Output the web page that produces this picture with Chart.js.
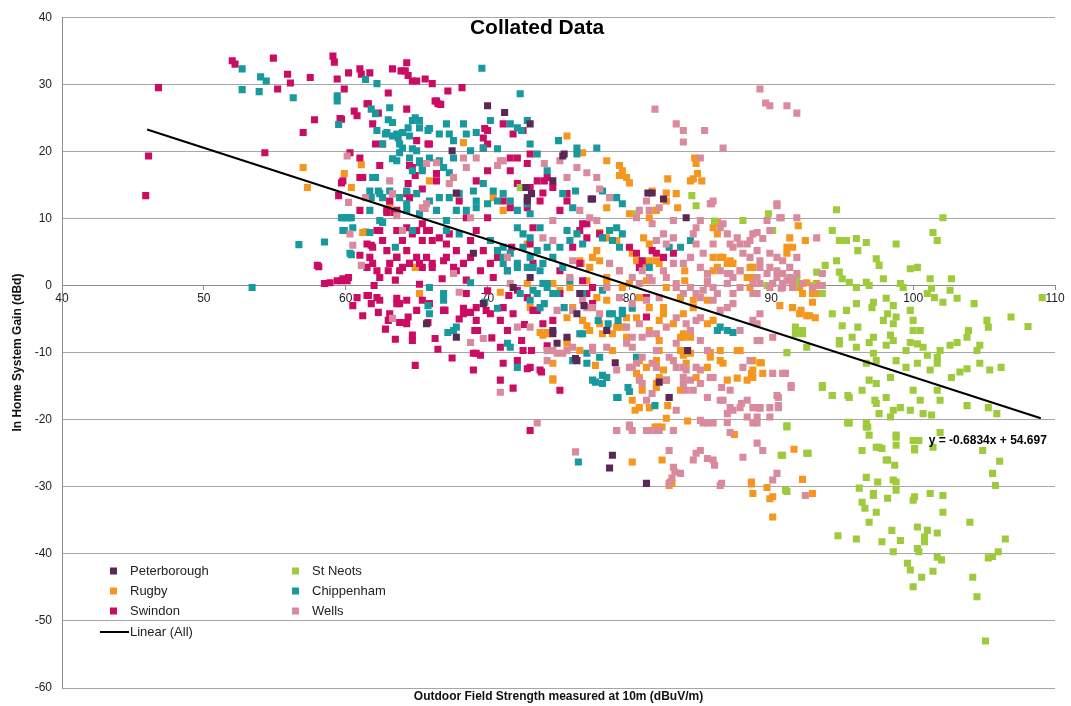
<!DOCTYPE html>
<html>
<head>
<meta charset="utf-8">
<title>Collated Data</title>
<script src="https://cdn.jsdelivr.net/npm/chart.js@4.4.1/dist/chart.umd.min.js"></script>
<style>
  html, body { margin: 0; padding: 0; background: #ffffff; }
  #wrap { width: 1071px; height: 706px; }
</style>
</head>
<body>
<div id="wrap"><canvas id="gainChart" width="1071" height="706"></canvas></div>
<script>
// Axis settings
const xTicks = [40, 50, 60, 70, 80, 90, 100, 110];
const yTicks = [-60, -50, -40, -30, -20, -10, 0, 10, 20, 30, 40];

// Trendline (Linear (All)): y = -0.6834x + 54.697
const trendSlope = -0.6834;
const trendIntercept = 54.697;
const trendRange = [46, 109];

// Series values, [field strength, gain]
const peterborough = [
  [70.0,26.8],[71.2,25.8],[73.0,24.1],[67.5,20.1],[75.3,19.3],[77.4,12.9],[81.3,13.8],[82.4,12.9],[84.0,10.1],
  [72.8,12.6],[73.1,13.7],[72.7,14.6],[72.8,13.1],[67.8,13.8],[71.8,-0.3],[73.0,1.2],[76.3,-11.2],[79.0,-11.5],
  [78.4,-6.7],[75.6,-7.7],[67.8,-7.7],[65.7,-5.7],[76.3,-4.2],[74.6,-6.7],[82.1,-14.4],[82.8,-16.7],[69.7,-2.7],
  [69.0,4.8],[76.5,-1.2],[78.8,-25.3],[78.6,-27.2],[81.2,-29.5],[76.2,-10.9],[74.9,-8.6],[74.6,-7.2],[76.8,-3.0],
  [84.1,-9.7],[75.4,19.6],[74.6,15.6],[81.6,13.8],[77.3,12.9]
];

const rugby = [
  [57.0,17.6],[57.3,14.6],[59.9,16.7],[60.4,14.6],[61.1,18.0],[61.4,8.0],[63.1,12.2],[64.5,3.3],[64.9,2.7],[65.2,-1.2],
  [65.9,15.6],[61.2,7.9],[67.8,13.7],[68.3,21.3],[70.4,13.1],[71.1,11.2],[70.9,-1.0],[72.8,6.2],[72.8,0.3],[73.0,-3.3],
  [75.6,22.3],[76.7,19.8],[78.4,18.6],[79.3,17.9],[79.5,17.1],[79.8,16.1],[80.0,15.3],[79.3,16.4],[82.7,15.9],[84.6,19.0],
  [84.7,18.2],[84.8,16.7],[84.5,15.9],[85.1,15.6],[84.3,15.6],[81.6,14.1],[82.6,13.8],[83.3,13.7],[82.6,12.6],[83.4,11.6],
  [78.4,11.6],[80.0,10.7],[81.4,10.1],[81.9,11.2],[85.9,8.6],[86.2,7.7],[91.3,7.1],[91.1,5.7],[79.1,6.7],[77.7,5.2],
  [77.9,3.7],[81.9,3.7],[81.2,3.3],[80.5,3.7],[85.9,4.2],[86.4,4.2],[86.9,3.3],[87.3,3.3],[86.2,2.7],[87.8,2.2],
  [88.5,1.2],[88.5,2.7],[91.1,4.8],[83.9,2.2],[83.9,0.7],[76.6,3.3],[77.0,0.7],[78.4,-0.3],[74.6,0.3],[86.2,9.4],
  [86.6,4.2],[87.1,3.7],[85.9,2.2],[88.5,-0.3],[78.4,7.1],[77.9,7.9],[81.0,7.1],[81.4,6.2],[80.2,4.8],[80.7,3.7],
  [81.4,3.7],[82.1,3.3],[77.4,4.2],[77.2,2.7],[76.5,3.7],[78.4,1.2],[79.3,2.2],[80.0,0.3],[81.2,0.7],[82.6,-0.3],
  [83.6,-1.8],[84.5,-2.2],[85.5,-2.2],[78.4,-2.2],[77.7,-1.8],[75.8,-0.3],[75.1,-0.7],
  [74.2,-7.2],[74.6,-11.6],[74.6,-14.1],[75.6,-8.6],[77.2,-6.7],[77.9,-5.7],[78.8,-9.7],[79.8,-7.7],[80.5,-13.1],
  [80.7,-11.2],[81.2,-12.2],[81.9,-15.2],[82.1,-13.7],[82.7,-17.9],[82.6,-19.8],[81.8,-21.1],[82.3,-21.1],[80.4,-18.6],
  [82.3,-26.0],[83.0,-29.5],[83.6,-7.7],[83.8,-10.4],[83.6,-15.6],[84.3,-7.7],[84.0,-11.6],[84.7,-13.7],[85.5,-12.2],
  [85.7,-10.0],[86.4,-11.2],[86.9,-14.1],[85.9,-5.2],[87.8,-9.7],[88.3,-14.1],[88.7,-13.7],[88.6,-29.3],[88.7,-31.0],
  [81.4,-3.3],[82.4,-4.2],[83.1,-5.7],[83.8,-7.2],[79.8,-4.8],[79.1,-6.2],[78.1,-7.2],[76.7,-5.2],[76.5,-9.7],[75.6,-4.8],
  [90.1,-31.5],[89.7,-30.1],[82.8,-29.8],[82.0,-21.1],[87.6,-13.8],[88.6,-13.1],[89.2,-11.5],[89.4,-13.1],[80.7,-18.2],
  [92.9,-1.2],[92.1,-3.7],[92.5,-4.5],[93.2,0.3],[91.5,0.3],[92.2,0.3],[88.3,1.2],[88.7,2.7],
  [91.9,8.9],[91.5,5.7],[92.4,6.7],[92.5,0.4],[92.0,-0.3],[92.2,-1.2],[93.4,-1.2],[92.9,-2.5],[91.5,-3.3],[92.0,-4.2],
  [92.7,-4.5],[93.1,-4.8],[88.6,1.2],[90.6,-3.0],[89.3,-11.5],[88.7,-12.6],
  [80.2,-26.3],[82.9,-29.3],[88.6,-29.6],[89.9,-31.8],[90.1,-34.5],[92.2,-28.9],[91.6,-24.4],[87.4,-22.2],[84.1,-20.2],
  [92.9,-31.0],[73.7,-7.0],[73.9,-7.4],[74.2,-7.0],[74.6,-13.9],[75.6,-8.2],[77.6,-11.9],[77.0,-6.0],[81.9,-14.6],[76.0,-3.3],
  [78.8,-7.2],[79.5,-6.2],[80.5,-4.8],[81.4,-6.7],[82.1,-8.2],[82.1,-9.7],[81.9,-11.2],[82.4,-12.6],[82.6,-14.1],[83.6,-9.7],
  [84.3,-10.1],[85.7,-10.7],[86.4,-9.7],[86.6,-11.6],[87.6,-9.7],[88.7,-11.2],[80.7,-13.7],[80.9,-15.6],[80.2,-17.1],[81.4,-18.2],
  [78.4,0.3],[79.5,-0.3],[80.7,-1.8],[82.4,-3.3],[83.8,-4.2],[84.5,-3.3],[85.5,-5.7],[82.1,-5.2],[83.8,-7.7]
];

const swindon = [
  [45.9,13.4],[46.1,19.3],[46.8,29.5],[52.0,33.5],[52.2,33.0],[54.9,33.9],[55.9,31.5],[56.1,30.2],[55.2,29.3],[57.5,31.0],
  [57.8,24.7],[57.0,22.8],[54.3,19.8],[59.1,34.2],[59.2,33.3],[59.4,30.8],[59.9,29.3],[60.2,31.7],[61.0,32.3],[61.1,31.5],
  [61.7,31.7],[63.3,32.3],[63.9,32.0],[64.3,33.2],[64.4,31.3],[65.0,30.5],[65.6,30.8],[66.1,30.1],[63.0,28.7],[64.3,26.3],
  [60.6,26.0],[60.8,25.3],[61.6,27.1],[62.3,25.7],[61.9,24.1],[62.1,21.1],[65.0,21.6],[65.8,21.1],[66.3,27.5],[59.7,24.8],
  [60.3,19.8],[61.0,19.0],[62.4,17.9],[64.7,17.6],[64.9,16.4],[61.0,16.1],[64.4,15.2],[64.3,13.7],[65.4,14.4],[59.7,15.3],
  [59.5,13.4],[62.9,10.9],[63.4,10.9],[62.4,8.2],[61.8,6.0],[62.9,5.2],[63.6,8.2],[64.0,6.7],[65.0,8.2],[65.7,8.2],
  [66.1,6.7],[58.1,2.8],[58.5,0.3],[58.9,0.4],[59.7,0.7],[60.2,1.2],[60.8,-1.8],[61.5,-1.5],[62.2,-1.8],[61.5,2.7],
  [61.9,3.3],[62.4,1.2],[63.0,2.2],[63.6,4.2],[64.0,2.7],[64.5,3.3],[65.0,4.2],[65.4,2.7],[66.1,3.3],
  [64.2,32.0],[64.7,30.5],[67.2,29.0],[68.2,29.5],[66.4,27.5],[66.7,27.0],
  [59.6,24.9],[61.5,27.1],[62.6,21.1],[65.9,21.1],[66.5,27.1],[59.8,15.6],[64.5,17.9],[66.4,16.7],[66.4,15.6],[64.5,13.1],
  [63.6,11.2],[62.9,11.2],[63.1,12.6],[61.2,16.1],[61.0,11.2],[62.2,8.2],[62.6,6.7],[64.3,8.6],[64.7,7.7],[65.4,9.2],
  [65.9,8.2],[66.6,7.1],[67.3,7.7],[65.4,6.7],[64.3,5.2],[63.6,4.2],[61.9,5.7],[61.5,6.2],[61.7,4.2],[62.2,2.2],
  [63.1,3.3],[63.8,2.2],[65.2,3.3],[65.7,4.2],[66.1,2.7],[66.9,3.7],[67.6,2.7],[68.3,3.3],[68.8,4.2],[69.5,2.2],
  [70.2,3.3],[70.7,4.2],[69.7,5.2],[67.8,5.2],[67.1,6.2],[68.8,6.7],[69.2,8.2],[70.0,10.1],[68.5,10.1],[68.0,12.6],
  [69.2,15.6],[70.0,17.1],[71.6,17.1],[72.1,15.2],[73.0,14.6],[73.5,15.6],[73.7,12.6],[72.8,11.6],[71.6,11.6],[71.1,12.6],
  [71.6,19.0],[72.1,19.0],[73.0,19.6],[72.8,18.2],[70.0,23.1],[70.0,21.1],[71.1,24.1],[71.8,22.6],[72.5,23.1],[73.2,8.6],
  [71.7,5.7],[73.0,6.2],[59.4,0.7],[60.1,0.7],[62.4,-2.2],[63.6,-2.7],[65.0,-3.7],[65.9,-2.7],[66.9,-3.7],[68.3,-4.2],
  [69.2,-3.3],[70.2,-4.2],[71.1,-3.3],[73.5,-3.7],
  [69.8,23.4],[69.7,22.0],[69.7,20.5],[74.2,16.1],[75.6,13.7],[80.0,5.7],[80.5,4.8],[81.6,5.2],[82.4,4.2],[80.7,2.7],
  [77.0,9.2],[76.5,8.2],[77.9,7.7],[83.1,4.8],[75.1,11.2],[75.6,12.6],[74.0,15.6],[73.9,13.8],[74.6,14.6],[76.7,9.2],
  [77.0,7.1],[76.0,5.7],[81.9,4.8],[76.7,0.7],[77.4,-0.3],[75.1,-1.2],[81.2,-1.8],
  [58.0,3.0],[59.8,1.0],[61.6,-1.5],[61.8,-2.7],[62.3,-4.0],[63.1,-4.2],[63.6,-1.9],[63.8,-2.7],[64.3,-2.2],[64.4,-4.7],
  [64.2,-5.5],[64.7,-7.4],[64.7,-8.2],[64.9,-11.9],[65.4,-2.2],[66.3,-7.9],[66.9,-3.7],[68.5,-1.2],[68.3,-3.4],[68.8,-4.0],
  [69.2,-5.2],[69.9,-3.7],[69.3,-6.7],[69.0,-10.1],[69.5,-10.4],[69.0,-12.6],[70.9,-5.2],[71.4,-6.7],[70.9,-9.2],[71.1,-11.6],
  [71.8,-15.3],[72.1,-11.2],[72.4,-8.2],[73.0,-12.2],[73.7,-12.6],[73.9,-5.7],[74.6,-5.2],[75.1,-15.6],[73.0,-21.6],[73.2,-3.7],
  [72.8,-1.8],[72.1,-0.7],[67.1,4.2],[67.8,2.2],[70.4,1.2],[71.4,2.2],[73.2,3.3],[75.1,2.2],[76.5,3.3],[77.0,-1.2],
  [77.4,-2.7],[81.2,-4.7],[80.9,3.7],
  [63.0,-5.2],[63.8,-5.5],[64.3,-5.7],[67.0,-3.7],[69.2,-10.1],[70.9,-14.1],[72.5,-9.7],[73.1,-9.7],[72.8,-12.4],[73.8,-12.9],
  [69.1,-6.7],
  [60.5,-3.0],[61.2,-4.5],[62.8,-6.5],[63.5,-8.0],[65.8,-5.5],[66.5,-9.5],[67.5,-10.8],[68.0,-5.0],[70.3,-7.8],[71.8,-4.2],
  [72.6,-5.8],[74.2,-9.0],[61.0,4.5],[62.0,0.0],[63.5,0.8],[65.2,0.2],[66.8,1.0],[68.5,0.8],[70.0,-0.8],[71.5,-1.5]
];

const stNeots = [
  [89.8,10.7],[90.1,8.2],[94.6,11.3],[94.3,8.2],[94.8,6.7],[95.3,6.7],[96.0,7.0],[96.7,6.4],[96.1,5.2],[98.8,6.2],
  [102.1,10.1],[101.4,7.9],[101.7,6.7],[94.6,3.7],[93.8,3.0],[93.2,2.0],[94.8,2.0],[95.0,1.0],[95.5,0.5],[97.4,4.0],
  [97.6,3.0],[97.9,1.0],[99.8,2.5],[100.3,2.7],[101.2,1.0],[102.7,1.0],[99.1,0.3],[99.3,-0.3],[96.7,0.5],[96.9,0.0],
  [96.0,-0.3],[91.8,1.0],[91.9,0.3],[89.7,0.0],[92.9,0.0],[93.6,-1.2],[102.6,-0.7],[103.1,-1.9],[101.3,-0.4],[101.0,-1.2],
  [101.5,-1.8],[102.1,-2.5],[104.3,-2.7],[109.1,-1.8],[106.9,-4.7],[108.1,-6.1],[105.2,-5.2],[105.3,-6.2],[94.3,-4.2],[95.3,-3.7],
  [96.0,-2.7],[97.1,-3.3],[97.2,-2.5],[98.1,-1.9],[98.6,-3.0],[98.2,-4.2],[98.8,-4.7],[99.8,-3.7],[100.0,-5.2],[97.9,-5.2],
  [98.6,-5.7],[95.0,-6.0],[96.1,-6.2],[91.7,-6.2],[92.2,-7.2],[94.8,-8.2],[94.8,-8.7],[95.7,-7.7],[96.0,-9.2],[96.9,-8.5],
  [97.2,-7.7],[98.4,-7.4],[98.6,-8.2],[98.1,-8.9],[100.0,-6.7],[100.5,-6.7],[99.8,-8.5],[99.5,-9.7],[100.3,-8.7],[100.7,-9.2],
  [101.0,-10.4],[101.7,-10.7],[101.9,-9.7],[102.6,-8.9],[103.1,-8.5],[103.8,-7.7],[103.9,-6.7],[104.7,-8.9],[104.5,-9.7],[104.7,-11.6],
  [105.4,-12.6],[106.2,-12.2],[102.7,-13.7],[103.3,-12.9],[103.8,-12.4],[101.7,-11.6],[101.2,-12.6],[100.3,-11.6],[99.5,-12.2],[98.8,-11.2],
  [98.4,-13.7],[97.4,-11.2],[97.2,-10.1],[96.7,-11.6],[96.9,-14.1],[97.4,-14.6],[96.4,-15.6],[94.3,-16.4],[93.6,-15.2],[95.5,-16.7],
  [97.4,-17.6],[97.6,-19.1],[98.6,-18.6],[99.1,-18.2],[100.0,-15.6],[100.5,-17.1],[99.8,-18.6],[100.7,-19.1],[101.3,-19.3],[101.7,-15.6],
  [101.9,-17.1],[103.8,-17.9],[105.3,-18.2],[105.9,-19.1],[95.5,-20.5],[96.7,-21.1],[98.8,-22.6],[100.3,-23.1],[91.1,-21.1],[97.4,-24.1],
  [92.6,-25.0],[90.8,-25.3],[91.1,-30.7],[95.4,-20.5],[96.4,-24.6],[96.8,-21.1],[96.9,-22.3],[97.8,-24.3],[98.1,-26.0],[98.8,-23.8],
  [98.7,-26.8],[98.8,-22.3],[100.0,-23.1],[100.1,-24.3],[100.4,-23.1],[97.5,-29.3],[96.2,-30.2],[97.2,-31.3],[96.4,-32.3],[96.6,-33.2],
  [97.4,-33.8],[96.9,-35.3],[98.2,-31.7],[98.8,-29.3],[98.8,-30.5],[100.0,-32.0],[100.1,-31.5],[101.2,-31.0],[102.1,-31.3],[102.1,-33.8],
  [100.3,-36.0],[101.0,-36.5],[100.8,-37.5],[101.7,-36.9],[100.8,-38.2],[98.5,-36.5],[99.1,-38.0],[97.8,-38.2],[98.6,-39.7],[100.3,-39.2],
  [100.4,-39.7],[101.7,-40.5],[102.0,-40.9],[99.6,-41.4],[99.8,-42.4],[100.0,-44.9],[100.6,-43.5],[101.4,-42.6],[94.7,-37.3],[96.0,-37.8],
  [104.0,-35.3],[104.2,-43.5],[104.5,-46.4],[105.1,-53.0],[105.3,-40.6],[105.6,-40.4],[106.0,-39.7],[106.5,-37.8],[104.9,-24.6],[105.6,-28.0],
  [105.8,-29.8],[106.1,-26.2],[101.9,-21.9],[101.4,-24.1],[100.1,-24.5],
  [91.1,-20.9],[90.7,-25.3],[92.5,-25.0],[91.0,-30.5],[91.1,-10.0],[91.7,-7.2],[92.2,-6.7],[92.5,-9.2],[93.6,-14.9],[94.3,-16.4],
  [95.4,-16.4],[95.4,-20.4],[96.7,-20.5],[97.6,-24.1],[98.2,-26.0],[98.6,-29.0],[96.7,-28.6],[97.2,-31.0],[98.1,-16.7],[98.4,-19.6],
  [97.3,-17.1],[84.4,13.4],[84.7,11.9],[88.0,9.7],[80.5,10.7],[72.3,14.6],[86.0,9.6]
];

const chippenham = [
  [52.7,32.3],[52.7,29.2],[53.9,28.9],[54.0,31.1],[54.4,30.5],[56.3,28.0],[59.4,28.3],[59.4,27.5],[59.5,24.0],[61.4,30.7],
  [62.2,30.1],[61.8,26.3],[62.1,25.6],[63.1,26.5],[63.0,24.7],[62.2,23.1],[62.8,22.6],[63.3,22.3],[63.7,22.0],[64.0,22.8],
  [64.4,23.5],[64.7,24.6],[64.9,25.0],[65.2,23.5],[65.8,23.1],[62.6,21.1],[63.8,19.8],[64.0,20.5],[65.0,20.1],[63.3,18.9],
  [65.2,18.3],[65.4,17.6],[62.1,16.1],[62.3,14.1],[62.6,13.1],[63.3,13.7],[61.8,13.1],[64.3,12.2],[59.7,10.1],[60.1,10.1],
  [60.4,10.1],[59.9,8.2],[61.7,11.2],[62.6,9.4],[61.7,7.9],[60.4,4.6],[58.5,6.5],[56.7,6.1],[53.4,-0.3],[63.5,5.7],
  [64.7,8.2],[63.3,24.3],[62.9,22.8],[63.6,22.6],[64.5,22.3],[65.2,24.6],[65.9,23.4],[66.6,22.6],[67.1,24.1],[67.3,22.6],
  [67.6,21.6],[68.3,24.1],[68.5,22.6],[69.2,22.8],[70.2,24.6],[71.6,24.1],[72.1,23.5],[72.4,23.1],[73.0,21.1],[73.5,19.6],
  [63.8,21.1],[64.7,20.4],[63.6,18.6],[64.5,19.0],[65.2,18.6],[65.9,19.0],[66.6,18.6],[67.6,19.0],[68.8,20.1],[69.7,20.5],
  [70.7,20.4],[64.7,17.1],[65.4,17.1],[66.9,17.6],[67.3,16.8],[61.9,16.1],[61.7,14.1],[62.4,13.7],[63.1,14.1],[63.8,13.1],
  [64.3,14.1],[65.0,13.7],[65.9,12.6],[66.6,13.1],[67.3,13.1],[68.0,13.7],[69.0,14.1],[69.7,15.2],[70.4,14.1],[71.1,13.7],
  [71.6,12.6],[69.2,12.6],[70.0,12.2],[70.7,12.6],[72.1,11.2],[72.8,12.2],[73.0,10.7],[59.8,10.1],[60.3,10.1],[59.8,8.2],
  [62.4,9.7],[64.3,11.2],[65.2,10.7],[66.4,11.2],[67.1,9.7],[67.8,11.2],[68.5,11.2],[69.2,11.6],[67.1,8.2],[68.0,7.7],
  [70.2,6.7],[70.7,5.2],[71.1,5.7],[71.6,4.8],[72.5,5.7],[73.0,4.2],[73.5,5.2],[73.2,2.7],[72.1,2.7],[71.4,2.2],
  [73.9,3.3],[71.1,4.2],[72.1,8.6],[72.5,7.7],[73.0,7.1],[73.7,8.6],[60.3,4.8],[60.5,8.6],[68.8,0.4],[73.9,0.3],
  [66.9,-2.2],[65.9,-0.3],[73.0,-2.2],[73.7,-3.3],[73.5,-1.2],
  [66.9,-1.2],[65.8,-3.0],[65.9,-4.2],[67.6,-6.7],[67.2,-7.0],[67.8,-6.2],[69.8,-2.5],[70.7,-3.4],[71.4,-8.6],[71.6,-9.2],
  [72.1,-12.2],[71.1,3.3],[72.1,3.3],[72.8,2.7],[73.7,2.2],[74.2,0.3],[74.9,-1.2],[73.2,-0.7],[72.3,-1.2],[75.8,0.7],
  [76.7,-7.2],[77.9,-10.7],[77.6,-14.4],[78.1,-13.4],[79.1,-16.7],[79.9,-15.2],[81.8,-17.9],[79.5,-3.7],[78.6,-4.2],[80.5,-10.7],
  [77.0,-10.1],[76.0,-11.2],
  [74.0,-2.7],[75.4,-3.3],[76.5,-7.2],[77.0,-11.6],[77.4,-14.1],[78.1,-14.6],[79.2,-16.7],[80.0,-15.8],[76.4,-26.3],[77.8,-5.2],
  [78.5,-5.7],[79.2,-5.2],[79.5,-4.2],[78.8,-4.2],[80.2,-3.4],[86.4,-6.2],[86.9,-6.7],[87.3,-7.0],
  [75.0,21.6],[76.3,20.5],[76.3,19.6],[77.7,20.5],[74.2,17.1],[76.2,14.1],[78.1,14.1],[79.1,13.1],[79.5,12.2],[75.3,13.7],
  [76.0,11.6],[79.1,8.6],[78.6,8.2],[79.5,7.7],[78.8,6.7],[78.1,7.1],[79.3,5.7],[76.3,7.7],[75.8,6.7],[75.6,8.2],
  [76.7,6.2],[74.2,5.7],[75.1,5.7],[74.6,4.2],[75.3,2.7],[74.2,-0.3],[74.6,-1.2],[78.1,-0.7],[83.6,5.7],[82.8,5.7],
  [84.3,6.7],[76.7,-1.2],[81.4,2.7],[69.6,32.4],[72.3,28.6],[72.8,24.6],[86.2,-6.7],[78.4,-13.7]
];

const wells = [
  [89.2,29.3],[89.6,27.2],[89.9,26.8],[91.1,26.8],[91.8,25.7],[81.8,26.3],[83.3,24.1],[83.8,23.1],[83.8,21.4],[85.3,23.1],
  [86.6,20.5],[85.0,19.0],
  [74.0,18.2],[75.1,18.6],[76.3,17.6],[77.0,16.8],[77.7,16.1],[75.6,16.1],[77.9,14.4],[78.6,13.1],[81.2,12.6],[81.4,11.2],
  [80.7,11.2],[80.5,10.1],[82.1,11.6],[81.6,9.2],[83.1,9.7],[83.1,7.1],[82.4,7.7],[81.9,6.7],[82.6,6.2],[84.7,8.6],
  [85.0,9.7],[85.7,12.2],[85.9,12.6],[86.6,9.2],[86.9,7.7],[87.6,7.1],[87.8,6.2],[88.5,6.7],[88.7,7.7],[89.0,5.2],
  [88.0,4.8],[87.3,5.7],[85.9,6.2],[85.2,4.8],[84.3,4.2],[83.8,3.3],[83.1,3.3],[82.4,2.2],[81.4,1.2],[80.7,0.3],
  [81.2,-2.2],[82.1,-1.8],[83.3,-0.3],[84.3,-0.3],[85.2,-0.7],[85.9,-0.3],[86.9,0.3],[87.8,-0.3],[88.7,-1.2],[89.2,0.3],
  [85.5,1.8],[86.4,2.2],[86.9,1.8],[87.3,1.2],[87.8,2.2],[78.4,-0.3],[79.3,-1.8],[80.2,-2.7],[77.4,-3.3],[76.7,-2.2],
  [75.8,1.2],[76.0,3.7],[77.7,9.7],[77.2,10.1],[76.5,11.2],[74.6,9.7],[74.6,6.7],[73.9,7.1],
  [74.9,-3.7],[76.0,-3.7],[77.0,-3.3],[77.9,-4.2],[77.4,-9.7],[78.4,-9.2],[79.1,-12.6],[79.8,-8.6],[80.0,-12.2],[80.7,-14.1],
  [80.5,-11.6],[81.9,-12.2],[81.6,-16.1],[82.6,-14.1],[82.8,-10.7],[83.3,-8.6],[83.8,-12.2],[84.3,-14.1],[84.7,-12.2],[85.0,-14.6],
  [85.5,-16.7],[85.9,-13.7],[86.5,-15.2],[86.6,-17.1],[87.1,-15.6],[87.3,-18.6],[87.8,-18.2],[88.3,-17.1],[88.7,-18.2],[88.3,-19.6],
  [85.9,-20.5],[85.2,-20.5],[86.9,-20.4],[79.1,-21.6],[80.0,-20.8],[81.2,-21.6],[76.2,-24.8],[83.1,-27.1],[83.6,-28.0],[84.5,-26.0],
  [85.0,-24.6],[85.9,-26.0],[86.5,-29.5],[88.0,-25.6],[82.8,-29.5],[74.2,-9.7],[74.9,-10.1],[75.6,-9.7],[79.8,-6.2],[80.7,-5.7],
  [81.4,-7.2],[84.3,-6.7],[84.7,-5.2],[85.0,-8.2],[85.5,-9.7],[87.8,-6.7],[88.0,-12.2],[88.5,-11.2],[89.0,-19.6],[89.0,-18.2],
  [89.0,1.2],[89.7,1.8],[90.1,0.3],[90.4,1.2],[90.7,-0.4],[91.1,0.7],[91.8,1.8],[92.2,0.3],[92.9,-0.3],[93.4,0.0],
  [93.6,1.8],[87.3,-1.2],[87.3,-2.7],[86.4,-3.7],[85.9,-2.2],[85.0,-1.8],[89.2,-4.2],[88.7,-5.2],[90.1,-7.7],[89.0,-8.2],
  [90.1,-13.1],[91.0,-13.1],[91.4,-14.9],[90.4,-16.4],[90.5,-17.9],[89.9,-18.2],[89.2,-18.2],[89.0,-20.5],[87.9,-17.6],[87.1,-18.2],
  [87.1,-21.9],[89.4,-24.6],[90.4,-28.0],[90.1,-29.0],[86.0,-26.8],[84.7,-25.0],[85.5,-25.8],[82.8,-24.6],[83.2,-27.8],[83.0,-28.7],
  [86.4,-29.8],[92.4,-31.3],
  [60.1,19.3],[63.1,15.6],[65.7,18.2],[66.4,18.3],[68.3,19.0],[68.5,17.6],[67.6,16.1],[67.3,15.2],[69.2,19.0],[70.7,17.9],
  [70.9,18.6],[71.1,18.6],[63.6,10.4],[65.4,11.6],[65.7,12.2],[60.3,7.7],[60.5,6.0],[68.8,10.1],[71.6,0.3],[71.4,4.2],
  [60.2,12.4],[63.3,13.7],[61.4,13.1],[65.6,11.5],[64.0,8.2],
  [63.3,-4.9],[61.1,3.0],[67.6,1.8],[68.0,-1.0],[69.7,-7.9],[70.9,-15.9],[68.8,-8.5],[73.5,-20.5],[74.6,-9.7],[75.3,-10.1],
  [74.2,-11.2],[76.0,-9.2],[73.0,-6.2],[72.1,-6.2],[77.4,-9.2],[80.2,-7.7],[80.2,-12.2],[81.9,-9.7],[83.3,-12.2],[83.8,-13.7],
  [84.0,-15.6],[80.9,-14.6],[81.2,-17.1],[80.2,-21.6],[81.9,-21.6],[83.1,-21.6],
  [90.4,11.9],[89.7,9.7],[90.6,10.1],[91.8,10.1],[89.9,8.2],[88.3,6.2],[87.1,6.2],[86.4,8.6],[85.8,12.2],[84.5,7.7],
  [84.7,6.2],[89.9,4.8],[90.4,4.2],[90.8,3.7],[91.3,2.7],[91.8,4.2],[87.1,1.8],[88.7,0.3],[89.2,2.7],[91.5,0.7],
  [90.8,-0.3],[85.0,2.7],[85.5,0.7],
  [90.4,12.2],[90.7,10.1],[89.0,7.9],[89.4,7.0],[93.2,7.1],[88.5,4.2],[89.2,3.7],[89.9,2.7],[90.4,2.2],[90.8,1.8],
  [91.3,1.2],[90.8,0.3],[91.5,-0.3],[93.6,0.0],[89.9,-0.3],[89.0,-1.2],[89.0,-5.7],[89.2,-8.2],[90.8,-13.1],[91.4,-15.2],
  [90.5,-16.7],[89.2,-18.3],[90.5,-18.2],[89.9,-19.6],[88.7,-20.5],[89.0,-23.5],
  [78.6,3.3],[79.3,2.2],[80.2,1.2],[80.9,2.2],[81.6,0.7],[82.6,1.2],[83.3,0.3],[83.8,-1.2],[84.7,-1.2],[85.5,0.3],
  [86.2,-1.2],[86.9,-3.3],[85.0,-4.8],[84.0,-5.7],[83.3,-4.8],[82.6,-6.2],[81.9,-7.2],[80.9,-7.7],[80.2,-9.2],[80.9,-10.7],
  [81.6,-11.6],[83.1,-11.2],[84.0,-12.6],[85.0,-12.6],[85.7,-13.7],[83.8,-14.6],[84.5,-15.6],[82.8,-16.7],[85.5,-16.7],[86.4,-17.1],
  [83.3,-18.6],[86.9,-19.1],[85.5,-20.5],[85.0,-20.1],[82.1,-21.6],[80.0,-21.1],[79.1,-21.6],[81.4,-21.6]
];

const seriesNames = ['Peterborough', 'Rugby', 'Swindon', 'St Neots', 'Chippenham', 'Wells'];
const seriesValues = [peterborough, rugby, swindon, stNeots, chippenham, wells];
const seriesColors = ['#5a2856', '#f7961f', '#cc0b62', '#9dcb3c', '#17999e', '#d98a9c'];
// lower order is drawn on top
const seriesOrder = [1, 6, 5, 4, 3, 2];

const fontFamily = '"Liberation Sans", Arial, sans-serif';

const datasets = seriesNames.map((name, i) => ({
  type: 'scatter',
  label: name,
  data: seriesValues[i].map(p => ({ x: p[0], y: p[1] })),
  backgroundColor: seriesColors[i],
  borderWidth: 0,
  pointStyle: 'rect',
  pointRadius: 5,
  pointHoverRadius: 5,
  order: seriesOrder[i],
}));

datasets.push({
  type: 'line',
  label: 'Linear (All)',
  data: trendRange.map(x => ({ x: x, y: trendSlope * x + trendIntercept })),
  borderColor: '#000000',
  borderWidth: 2,
  pointRadius: 0,
  fill: false,
  order: 0,
});

// title, equation and legend drawn inside the plot area
const overlayPlugin = {
  id: 'overlay',
  afterDraw(chart) {
    const ctx = chart.ctx;
    const xs = chart.scales.x;
    const ys = chart.scales.y;
    ctx.save();
    ctx.fillStyle = '#000000';
    ctx.textBaseline = 'middle';

    ctx.font = 'bold 21px ' + fontFamily;
    ctx.textAlign = 'center';
    ctx.fillText('Collated Data', 537, 28);

    ctx.font = 'bold 12px ' + fontFamily;
    ctx.textAlign = 'left';
    const eq = 'y = ' + trendSlope + 'x + ' + trendIntercept;
    ctx.fillText(eq, xs.getPixelForValue(101.1), ys.getPixelForValue(-23.1));

    ctx.font = '13px ' + fontFamily;
    const colX = [110, 292];
    const rowY = [571, 591, 611];
    seriesNames.forEach((name, i) => {
      const col = Math.floor(i / 3);
      const row = i % 3;
      ctx.fillStyle = seriesColors[i];
      ctx.fillRect(colX[col], rowY[row] - 3.5, 7, 7);
      ctx.fillStyle = '#222222';
      ctx.fillText(name, colX[col] + 20, rowY[row]);
    });
    ctx.strokeStyle = '#000000';
    ctx.lineWidth = 2;
    ctx.beginPath();
    ctx.moveTo(100, 632);
    ctx.lineTo(129, 632);
    ctx.stroke();
    ctx.fillText('Linear (All)', 130, 632);
    ctx.restore();
  }
};

const ctx = document.getElementById('gainChart').getContext('2d');
const gainChart = new Chart(ctx, {
  data: { datasets: datasets },
  options: {
    responsive: false,
    animation: false,
    layout: { padding: { top: 16, right: 16, left: 0, bottom: 0 } },
    plugins: {
      legend: { display: false },
      tooltip: { enabled: false },
    },
    scales: {
      x: {
        type: 'linear',
        position: { y: 0 },
        min: xTicks[0],
        max: xTicks[xTicks.length - 1],
        afterBuildTicks: s => { s.ticks = xTicks.map(v => ({ value: v })); },
        ticks: { color: '#222222', font: { family: fontFamily, size: 12 }, padding: 2 },
        grid: { drawOnChartArea: false, drawTicks: true, tickLength: 4, color: '#8c8c8c' },
        border: { color: '#8c8c8c', width: 1 },
      },
      x2: {
        type: 'linear',
        position: 'bottom',
        min: xTicks[0],
        max: xTicks[xTicks.length - 1],
        ticks: { display: false },
        grid: { display: false, drawTicks: false },
        border: { display: false },
        title: {
          display: true,
          text: 'Outdoor Field Strength measured at 10m (dBuV/m)',
          color: '#111111',
          font: { family: fontFamily, size: 12, weight: 'bold' },
          padding: { top: 0, bottom: 2 },
        },
        afterFit: s => { s.height = 18; },
      },
      y: {
        type: 'linear',
        min: yTicks[0],
        max: yTicks[yTicks.length - 1],
        afterBuildTicks: s => { s.ticks = yTicks.map(v => ({ value: v })); },
        ticks: { color: '#222222', font: { family: fontFamily, size: 12 }, padding: 10 },
        grid: { color: '#a6a6a6', drawTicks: false },
        border: { color: '#8c8c8c', width: 1 },
        title: {
          display: true,
          text: 'In Home System Gain (dBd)',
          color: '#111111',
          font: { family: fontFamily, size: 12, weight: 'bold' },
          padding: { top: 10, bottom: 0 },
        },
        afterFit: s => { s.width = 62; },
      },
    },
  },
  plugins: [overlayPlugin],
});
</script>
</body>
</html>
